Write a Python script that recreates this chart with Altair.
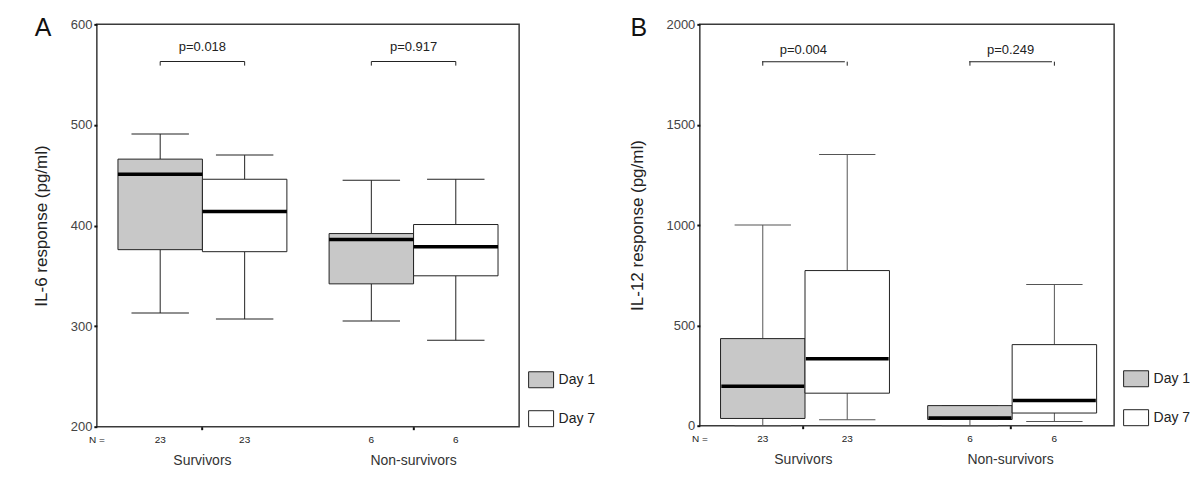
import altair as alt
import pandas as pd

# ---------------- data ----------------
groups = ["Survivors", "Non-survivors"]
days = ["Day 1", "Day 7"]
n_counts = ["23", "23", "6", "6"]          # order: Surv D1, Surv D7, NS D1, NS D7

# Panel A: IL-6 response (pg/ml)
il6_wlo = [313, 307, 305, 286]
il6_q1 = [376, 374, 342, 350]
il6_med = [451, 414, 386, 379]
il6_q3 = [466, 446, 392, 401]
il6_whi = [491, 470, 445, 446]
il6_p = ["p=0.018", "p=0.917"]
il6_bracket = [563, 563]
il6_drop = [559, 559]
il6_ptext = [577, 577]
il6_ticks = [200, 300, 400, 500, 600]

# Panel B: IL-12 response (pg/ml)
il12_wlo = [0, 30, 0, 21]
il12_q1 = [36, 162, 31, 63]
il12_med = [197, 333, 38, 126]
il12_q3 = [434, 773, 100, 404]
il12_whi = [1000, 1351, 100, 704]
il12_p = ["p=0.004", "p=0.249"]
il12_bracket = [1814, 1814]
il12_drop = [1794, 1794]
il12_ptext = [1874, 1874]
il12_ticks = [0, 500, 1000, 1500, 2000]

FONT = "Liberation Sans"
FILL_RANGE = ["#c8c8c8", "#ffffff"]
LEGEND_SYMBOL = "M-1.5625,-1L1.5625,-1L1.5625,1L-1.5625,1Z"


def panel(wlo, q1, med, q3, whi, plabels, blevel, bdrop, ptext, yticks,
          ydomain, ytitle, letter, W, H, letter_x, wcol):
    box_w = W / 5.0
    df = pd.DataFrame({
        "group": [g for g in groups for _ in days],
        "day": days * 2,
        "n": n_counts,
        "wlo": wlo, "q1": q1, "med": med, "q3": q3, "whi": whi,
    })
    pdf = pd.DataFrame({"group": groups, "p": plabels, "lvl": blevel,
                        "drop": bdrop, "ptxt": ptext})
    pdf_drop = pd.DataFrame({
        "group": [g for g in groups for _ in days],
        "day": days * 2,
        "lvl": [v for v in blevel for _ in days],
        "drop": [v for v in bdrop for _ in days],
    })
    one = pd.DataFrame({"k": [0]})

    xaxis = alt.Axis(title=None, labelAngle=0, ticks=True, tickSize=3,
                     tickWidth=2, tickColor="#111", labelPadding=24,
                     labelFontSize=14, labelColor="#333", domain=False,
                     grid=False, labelFont=FONT)
    xscale = alt.Scale(domain=groups, paddingInner=0.2, paddingOuter=0.1)
    yaxis = alt.Axis(values=yticks, title=ytitle, grid=False, domain=False,
                     format="d",
                     tickSize=3, tickWidth=2, tickColor="#111",
                     labelFontSize=13, labelColor="#444", labelPadding=2,
                     labelFont=FONT, titleFont=FONT, titleFontSize=17,
                     titleFontWeight="normal", titleColor="#222",
                     titlePadding=20)
    yscale = alt.Scale(domain=ydomain, nice=False, zero=False)

    def X():
        return alt.X("group:N", scale=xscale, axis=xaxis)

    def XO():
        return alt.XOffset("day:N", scale=alt.Scale(domain=days, paddingInner=0,
                                                    paddingOuter=0))

    def Y(f):
        return alt.Y(f"{f}:Q", scale=yscale, axis=yaxis)

    base = alt.Chart(df)

    whisk_hi = base.mark_rule(color=wcol, strokeWidth=1).encode(
        x=X(), xOffset=XO(), y=Y("q3"), y2="whi")
    whisk_lo = base.mark_rule(color=wcol, strokeWidth=1).encode(
        x=X(), xOffset=XO(), y=Y("q1"), y2="wlo")
    cap_hi = base.mark_tick(color=wcol, thickness=1, opacity=1,
                            size=box_w * 0.68).encode(
        x=X(), xOffset=XO(), y=Y("whi"))
    cap_lo = base.mark_tick(color=wcol, thickness=1, opacity=1,
                            size=box_w * 0.68).encode(
        x=X(), xOffset=XO(), y=Y("wlo"))
    boxes = base.mark_bar(stroke="#222", strokeWidth=1, opacity=1).encode(
        x=X(), xOffset=XO(), y=Y("q1"), y2="q3",
        fill=alt.Fill("day:N",
                      scale=alt.Scale(domain=days, range=FILL_RANGE),
                      legend=alt.Legend(title=None, orient="none",
                                        legendX=W + 13.5, legendY=H - 55.5,
                                        symbolType=LEGEND_SYMBOL,
                                        symbolSize=256,
                                        symbolStrokeColor="#222",
                                        symbolStrokeWidth=1,
                                        symbolOpacity=1,
                                        labelFontSize=14, labelFont=FONT,
                                        labelColor="#222", labelOffset=9,
                                        rowPadding=18, padding=0)))
    medians = base.mark_tick(color="black", thickness=3.5, opacity=1,
                             size=box_w).encode(
        x=X(), xOffset=XO(), y=Y("med"))
    nlab = base.mark_text(fontSize=10, font=FONT, color="#222",
                          baseline="middle").encode(
        x=X(), xOffset=XO(), y=alt.value(H + 13), text="n:N")
    nhead = alt.Chart(one).mark_text(fontSize=10, font=FONT, color="#222",
                                     baseline="middle").encode(
        x=alt.value(0), y=alt.value(H + 13), text=alt.value("N ="))

    bracket = alt.Chart(pdf).mark_tick(color="#222", thickness=1, opacity=1,
                                       size=box_w).encode(x=X(), y=Y("lvl"))
    drops = alt.Chart(pdf_drop).mark_rule(color="#222", strokeWidth=1).encode(
        x=X(), xOffset=XO(), y=Y("lvl"), y2="drop")
    ptxt = alt.Chart(pdf).mark_text(fontSize=13, font=FONT, color="#222",
                                    baseline="middle").encode(
        x=X(), y=Y("ptxt"), text="p:N")
    letter_mark = alt.Chart(one).mark_text(fontSize=25, font=FONT, color="#111",
                                           baseline="alphabetic").encode(
        x=alt.value(letter_x), y=alt.value(12), text=alt.value(letter))

    return alt.layer(whisk_hi, whisk_lo, cap_hi, cap_lo, boxes, medians,
                     bracket, drops, ptxt, nlab, nhead, letter_mark).properties(
        width=W, height=H)


pa = panel(il6_wlo, il6_q1, il6_med, il6_q3, il6_whi, il6_p, il6_bracket,
           il6_drop, il6_ptext, il6_ticks, [200, 600],
           "IL-6 response (pg/ml)", "A", 423, 403, -54, "#222")
pb = panel(il12_wlo, il12_q1, il12_med, il12_q3, il12_whi, il12_p,
           il12_bracket, il12_drop, il12_ptext, il12_ticks, [0, 2000],
           "IL-12 response (pg/ml)", "B", 415, 402, -61, "#555")

chart = alt.hconcat(pa, pb, spacing=30).resolve_scale(
    fill="independent").resolve_legend(fill="independent").properties(
    padding={"left": 23, "top": 7, "right": 0, "bottom": 0},
    background="white",
).configure(
    font=FONT,
    view=alt.ViewConfig(stroke="#3a3a3a", strokeWidth=1.5),
)

chart.save("out.html", embed_options={"renderer": "svg", "actions": False})
